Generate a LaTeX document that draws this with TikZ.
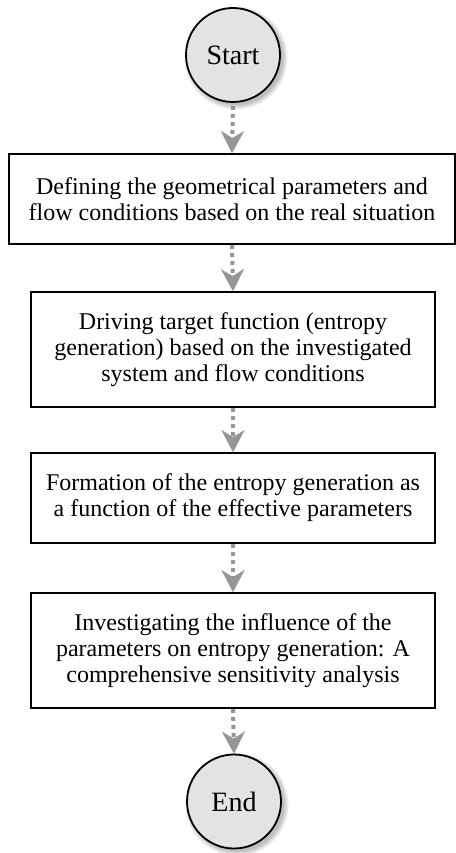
\documentclass[tikz,border=0pt]{standalone}
\usepackage{fontspec}
\setmainfont{Liberation Serif}
\usetikzlibrary{arrows.meta}
\definecolor{arrgray}{RGB}{150,150,150}
\definecolor{circfill}{RGB}{227,227,227}
\begin{document}
\begin{tikzpicture}[x=1pt,y=1pt,
  terminal/.style={circle, draw=black, line width=1.8pt, fill=circfill,
    minimum size=94pt, inner sep=0pt, font=\fontsize{28}{32}\selectfont},
  procbox/.style={draw=black, line width=1.8pt, fill=white, align=center,
    inner sep=0pt, font=\fontsize{24}{26}\selectfont},
  flow/.style={draw=arrgray, line width=4pt, dash pattern=on 4pt off 4pt,
    -{Stealth[length=22pt,width=23pt,inset=7pt,line width=0.01pt]}},
  softshadow/.style={fill=black, opacity=0.07}]
\useasboundingbox (0,0) rectangle (455,-853);
\coordinate (startc) at (233,-55);
\coordinate (endc) at (234,-801.5);
% soft shadows of the terminals
\foreach \c in {startc,endc}{
  \foreach \r in {47,48.5,50,51.5}{
    \fill[softshadow] ([xshift=3pt,yshift=-3pt]\c) circle (\r pt);
  }
}
\node[terminal] (start) at (startc) {Start};
\node[procbox, minimum width=446pt, minimum height=90pt] (b1) at (232,-199)
  {Defining the geometrical parameters and\\flow conditions based on the real situation};
\node[procbox, minimum width=404pt, minimum height=115pt] (b2) at (233,-349.5)
  {Driving target function (entropy\\generation) based on the investigated\\system and flow conditions};
\node[procbox, minimum width=404pt, minimum height=90pt] (b3) at (233,-498)
  {Formation of the entropy generation as\\a function of the effective parameters};
\node[procbox, minimum width=404pt, minimum height=115pt] (b4) at (233,-650.5)
  {Investigating the influence of the\\parameters on entropy generation: A\\comprehensive sensitivity analysis};
\node[terminal] (end) at (endc) {End};
\draw[flow, shorten <=3pt] (start.south) -- (b1.north);
\draw[flow] (b1.south) -- (b2.north);
\draw[flow] (b2.south) -- (b3.north);
\draw[flow] (b3.south) -- (b4.north);
\draw[flow] (b4.south) -- (end.north);
\end{tikzpicture}
\end{document}
